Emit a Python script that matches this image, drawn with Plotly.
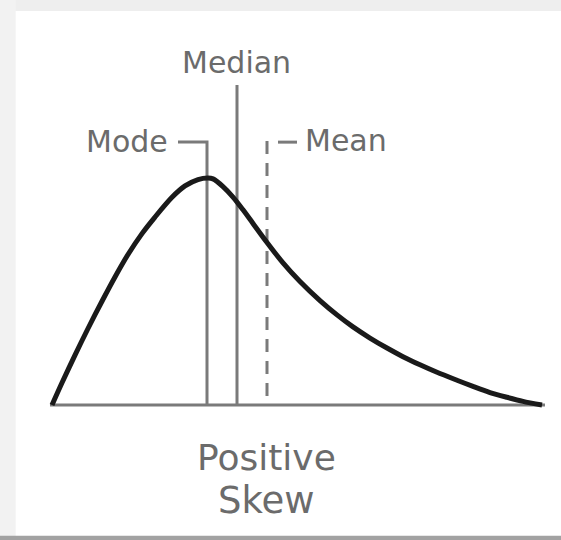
import plotly.graph_objects as go

# Positive skew density curve (x in arbitrary units, y relative to peak)
curve_x = [0.08, 0.28, 0.54, 0.80, 1.08, 1.34, 1.60, 1.88, 2.14, 2.48, 2.74, 3.00, 3.20, 3.30,
           3.50, 3.70, 3.90, 4.10, 4.38, 4.70, 5.04, 5.44, 5.78, 6.10, 6.44, 6.78, 7.10, 7.44,
           7.78, 8.18, 8.50, 8.84, 9.18, 9.50, 9.88]
curve_y = [0.000, 0.098, 0.220, 0.337, 0.457, 0.564, 0.663, 0.755, 0.828, 0.915, 0.965, 0.993,
           1.000, 0.996, 0.962, 0.916, 0.860, 0.800, 0.716, 0.626, 0.544, 0.460, 0.397, 0.344,
           0.295, 0.251, 0.213, 0.177, 0.144, 0.109, 0.082, 0.055, 0.034, 0.016, 0.000]

# central tendency markers
stat_names = ["Mode", "Median", "Mean"]
stat_x = [3.18, 3.78, 4.38]
stat_top = [1.159, 1.41, 1.163]

baseline_x = [0.04, 9.94]

line_grey = "#7a7a7a"
text_grey = "#6b6b6b"
font = "DejaVu Sans"

fig = go.Figure()

# baseline
fig.add_trace(go.Scatter(x=baseline_x, y=[0, 0], mode="lines",
                         line=dict(color=line_grey, width=3), hoverinfo="skip"))

# mode line with a stub to the left
mode_x, med_x, mean_x = stat_x
fig.add_trace(go.Scatter(x=[mode_x - 0.58, mode_x, mode_x], y=[stat_top[0], stat_top[0], 0],
                         mode="lines", line=dict(color=line_grey, width=3), hoverinfo="skip"))
# median line
fig.add_trace(go.Scatter(x=[med_x, med_x], y=[stat_top[1], 0], mode="lines",
                         line=dict(color=line_grey, width=3), hoverinfo="skip"))
# mean line (dashed) + small stub to the right
fig.add_trace(go.Scatter(x=[mean_x, mean_x], y=[stat_top[2], 0], mode="lines",
                         line=dict(color=line_grey, width=3, dash="13px,9px"), hoverinfo="skip"))
fig.add_trace(go.Scatter(x=[mean_x + 0.22, mean_x + 0.6], y=[stat_top[2] - 0.005] * 2,
                         mode="lines", line=dict(color=line_grey, width=3), hoverinfo="skip"))

# the skewed curve
fig.add_trace(go.Scatter(x=curve_x, y=curve_y, mode="lines",
                         line=dict(color="#1a1a1a", width=5, shape="spline", smoothing=0.8),
                         hoverinfo="skip"))

# labels
fig.add_annotation(x=med_x - 0.02, y=1.507, text=stat_names[1], showarrow=False,
                   xanchor="center", yanchor="middle",
                   font=dict(family=font, size=30, color=text_grey))
fig.add_annotation(x=mode_x - 0.74, y=stat_top[0], text=stat_names[0], showarrow=False,
                   xanchor="right", yanchor="middle",
                   font=dict(family=font, size=30, color=text_grey))
fig.add_annotation(x=mean_x + 0.72, y=stat_top[2], text=stat_names[2], showarrow=False,
                   xanchor="left", yanchor="middle",
                   font=dict(family=font, size=30, color=text_grey))
fig.add_annotation(x=4.36, y=-0.233, text="Positive", showarrow=False,
                   xanchor="center", yanchor="middle",
                   font=dict(family=font, size=36, color=text_grey))
fig.add_annotation(x=4.36, y=-0.419, text="Skew", showarrow=False,
                   xanchor="center", yanchor="middle",
                   font=dict(family=font, size=37, color=text_grey))

# faint frame around the picture
fig.add_shape(type="rect", xref="paper", yref="paper", x0=0, x1=1, y0=0.9796, y1=1,
              fillcolor="#eeeeee", line_width=0, layer="below")
fig.add_shape(type="rect", xref="paper", yref="paper", x0=0, x1=0.028, y0=0, y1=1,
              fillcolor="#f2f2f2", line_width=0, layer="below")
fig.add_shape(type="rect", xref="paper", yref="paper", x0=0, x1=1, y0=0, y1=0.008,
              fillcolor="#a2a2a2", line_width=0, layer="below")

fig.update_layout(
    width=561, height=540,
    margin=dict(l=0, r=0, t=0, b=0),
    paper_bgcolor="white", plot_bgcolor="white",
    showlegend=False,
    xaxis=dict(range=[-0.96, 10.26], visible=False, fixedrange=True),
    yaxis=dict(range=[-0.5947, 1.7841], visible=False, fixedrange=True),
)

# drop the page's default body margin so the figure fills the window
fig.write_html("out.html", config={"displayModeBar": False},
               post_script="document.body.style.margin='0';")
